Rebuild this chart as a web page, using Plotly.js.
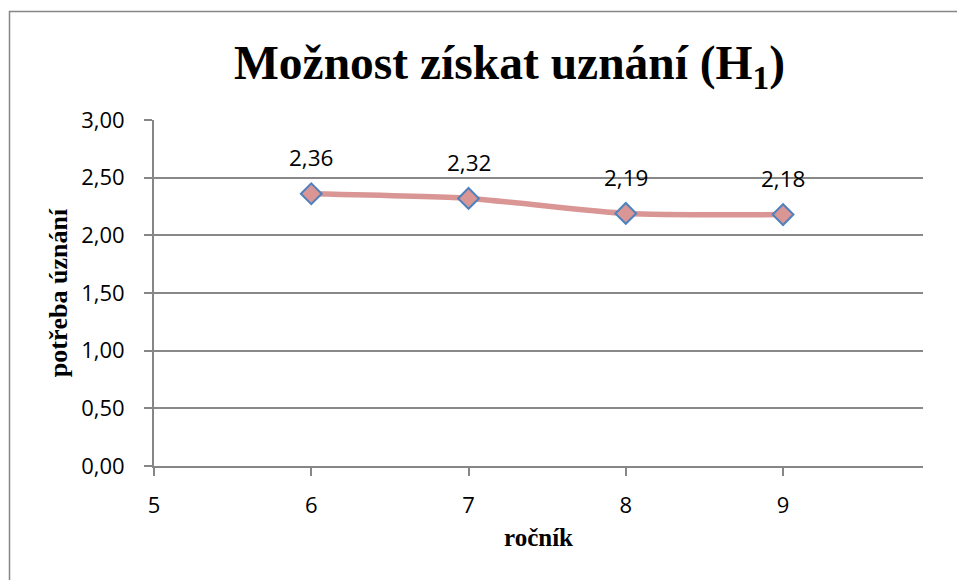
<!DOCTYPE html>
<html>
<head>
<meta charset="utf-8">
<script src="https://cdn.plot.ly/plotly-3.0.1.min.js"></script>
<style>html,body{margin:0;padding:0;background:#fff;}#chart{width:957px;height:580px;}</style>
</head>
<body>
<div id="chart"></div>
<script>
const grades = [6, 7, 8, 9];
const values = [2.36, 2.32, 2.19, 2.18];
const valueLabels = ['2,36', '2,32', '2,19', '2,18'];
const xTicks = [5, 6, 7, 8, 9];
const yTicks = [0, 0.5, 1, 1.5, 2, 2.5, 3];
const yTickText = ['0,00', '0,50', '1,00', '1,50', '2,00', '2,50', '3,00'];

const trace = {
  x: grades, y: values, type: 'scatter', mode: 'lines+markers',
  line: {color: '#D99694', width: 5.5, shape: 'spline', smoothing: 0.6},
  marker: {symbol: 'diamond', size: 16, color: '#D99694', line: {color: '#4F81BD', width: 2}},
  hoverinfo: 'skip', showlegend: false
};

const annotations = grades.map((g, i) => ({
  x: g, y: values[i], xref: 'x', yref: 'y', text: valueLabels[i], showarrow: false,
  yshift: 36, font: {family: 'Open Sans, sans-serif', size: 22.5, color: '#000'}
}));
annotations.push({
  text: 'Možnost získat uznání (H<sub>1</sub>)', xref: 'paper', yref: 'paper',
  x: 0.462, y: 1.155, showarrow: false, xanchor: 'center', yanchor: 'middle',
  font: {family: 'Liberation Serif, Times New Roman, serif', size: 47.5, color: '#000', weight: 'bold'}
});

const axisCommon = {
  showline: true, linecolor: '#868686', linewidth: 2,
  gridcolor: '#888888', gridwidth: 2, zeroline: false,
  ticks: 'outside', ticklen: 8, tickcolor: '#868686', tickwidth: 2,
  tickfont: {family: 'Open Sans, sans-serif', size: 22, color: '#000'}
};

const layout = {
  width: 957, height: 580,
  margin: {l: 154, r: 34, t: 120, b: 114},
  paper_bgcolor: '#fff', plot_bgcolor: '#fff',
  xaxis: Object.assign({}, axisCommon, {
    range: [5, 9.89], tickmode: 'array', tickvals: xTicks, ticktext: xTicks.map(String),
    showgrid: false, ticklabelstandoff: 11,
    title: {text: 'ročník', standoff: 10, font: {family: 'Liberation Serif, Times New Roman, serif', size: 25, color: '#000', weight: 'bold'}}
  }),
  yaxis: Object.assign({}, axisCommon, {
    range: [0, 3], tickmode: 'array', tickvals: yTicks, ticktext: yTickText,
    showgrid: true, ticklabelstandoff: 15,
    title: {text: 'potřeba úznání', standoff: 6, font: {family: 'Liberation Serif, Times New Roman, serif', size: 26, color: '#000', weight: 'bold'}}
  }),
  annotations: annotations,
  shapes: [{
    type: 'rect', xref: 'paper', yref: 'paper',
    x0: (9.5 - 154) / 769, x1: 1.06, y0: -0.35, y1: (466 - 11.5) / 346,
    line: {color: '#868686', width: 1.5}, fillcolor: 'rgba(0,0,0,0)', layer: 'below'
  }]
};

Plotly.newPlot('chart', [trace], layout, {displayModeBar: false, staticPlot: true});
</script>
</body>
</html>
